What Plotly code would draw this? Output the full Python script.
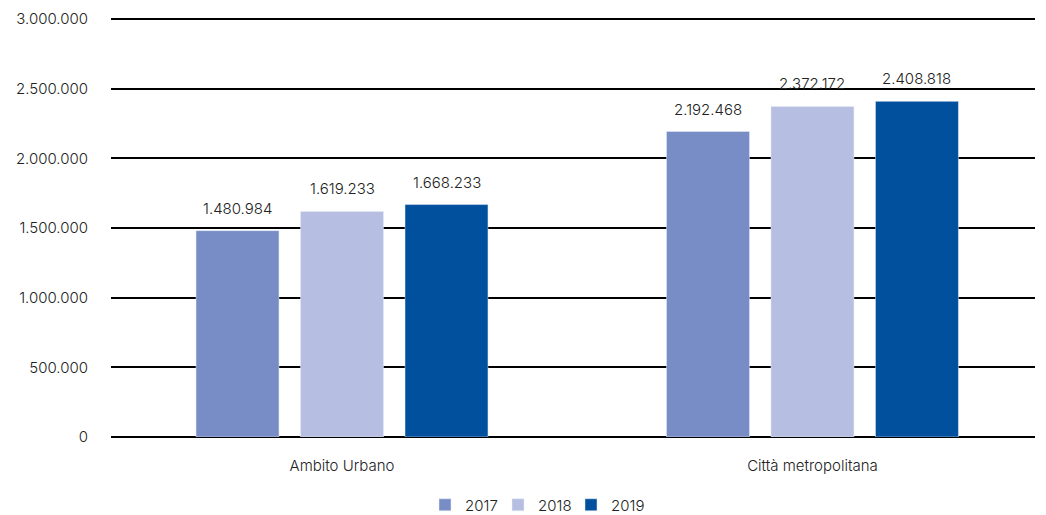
import plotly.graph_objects as go

categories = ["Ambito Urbano", "Città metropolitana"]
years = ["2017", "2018", "2019"]
values_2017 = [1480984, 2192468]
values_2018 = [1619233, 2372172]
values_2019 = [1668233, 2408818]
colors = ["#788CC5", "#B6BFE1", "#01509E"]
tick_vals = [0, 500000, 1000000, 1500000, 2000000, 2500000, 3000000]

series = [values_2017, values_2018, values_2019]
font_family = "Inter, Roboto, sans-serif"
text_color = "#222222"
bar_step_px = 104.5

fig = go.Figure()
for name, vals, col in zip(years, series, colors):
    fig.add_trace(go.Bar(x=categories, y=vals, name=name, marker_color=col))

annotations = []
for i, vals in enumerate(series):
    for cat, v in zip(categories, vals):
        annotations.append(dict(
            x=cat, y=v, xref="x", yref="y", text=f"{v:,}".replace(",", "."),
            showarrow=False, yanchor="bottom", xanchor="center",
            xshift=(i - 1) * bar_step_px, yshift=11,
            font=dict(size=15, color=text_color, family=font_family, weight=300),
        ))

fig.update_layout(
    width=1046, height=515,
    margin=dict(l=111, r=11, t=17, b=78, autoexpand=False),
    paper_bgcolor="white", plot_bgcolor="white",
    separators=",.",
    barmode="group", bargap=0.3337, bargroupgap=0.206,
    font=dict(family=font_family, size=15, color=text_color, weight=300),
    legend=dict(orientation="h", xref="container", yref="container",
                x=0.511, xanchor="center", y=0.0194, yanchor="middle",
                font=dict(size=15, weight=300), itemwidth=30,
                entrywidth=28, entrywidthmode="pixels", traceorder="normal"),
    annotations=annotations,
)
fig.update_xaxes(range=[-0.491, 1.473], showgrid=False, showline=False, ticks="",
                 zeroline=False, ticklabelstandoff=18)
fig.update_yaxes(range=[0, 3014354], tickvals=tick_vals, tickformat=",.0f",
                 showgrid=True, gridcolor="black", gridwidth=2,
                 zeroline=True, zerolinecolor="black", zerolinewidth=2,
                 showline=False, ticks="", ticklabelstandoff=22)

fig.write_html("out.html")
